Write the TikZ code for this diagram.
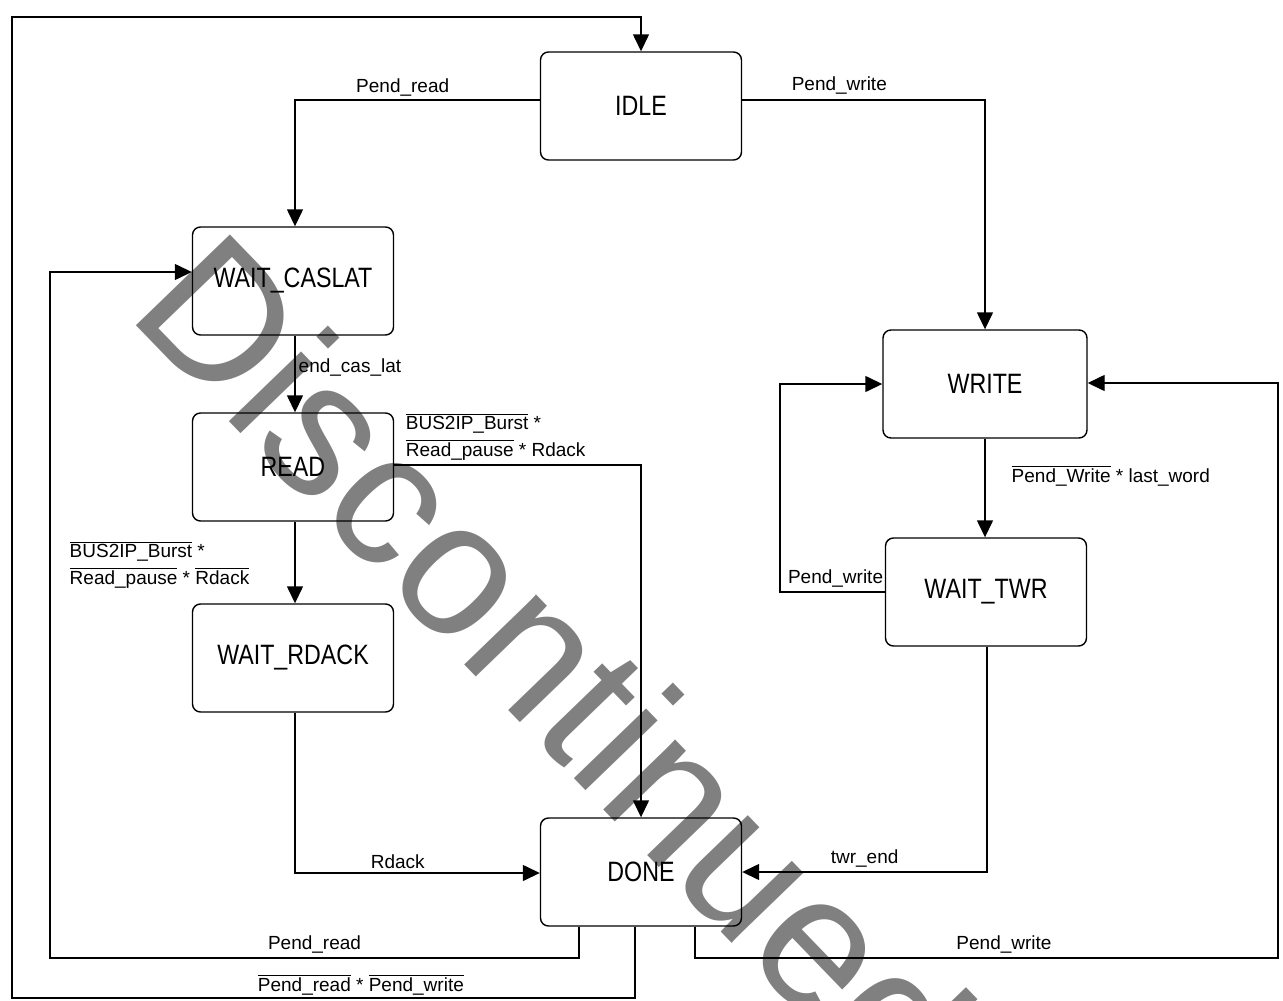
\documentclass[tikz,border=0pt]{standalone}
\usepackage{fontspec}
\usepackage{amsmath}
\usetikzlibrary{arrows.meta,positioning}
\newfontfamily\statefont{Liberation Sans}[FakeStretch=0.83]
\newfontfamily\labfont{Liberation Sans}
\newfontfamily\wmfont{Liberation Sans}
\newcommand{\ovl}[1]{$\overline{\mbox{#1}}$}

\begin{document}
\begin{tikzpicture}[
  x=1pt, y=-1pt,
  state/.style={draw, line width=1.4pt, rounded corners=8pt, minimum width=201pt, minimum height=108pt, inner sep=0pt, font=\statefont\fontsize{28}{32}\selectfont},
  flow/.style={-{Triangle[length=17pt, width=16pt]}, line width=1.4pt},
  lab/.style={font=\labfont\fontsize{19}{26.5}\selectfont, inner sep=1pt, align=left},
  watermark/.style={font=\wmfont\fontsize{190}{190}\selectfont, text=gray, rotate=-46, inner sep=0pt}
]
\useasboundingbox (0,0) rectangle (1283,1001);
\node[watermark, anchor=base west] (wm) at (125,314) {Discontinued};

\node[state] (idle) at (641,106) {IDLE};
\node[state] (wcas) at (293,281) {WAIT\_CASLAT};
\node[state] (read) at (293,467) {READ};
\node[state] (wrdack) at (293,658) {WAIT\_RDACK};
\node[state] (done) at (641,872) {DONE};
\node[state, minimum width=204pt] (write) at (985,384) {WRITE};
\node[state] (wtwr) at (986,592) {WAIT\_TWR};

\coordinate (outBL) at (12,998);
\coordinate (outTL) at (12,17);
\coordinate (loopL) at (50,958);
\coordinate (loopR) at (1278,958);

\draw[flow] ([yshift=6pt]idle.west) -| node[lab, pos=0.28, above=2pt] {Pend\_read} ([xshift=2pt]wcas.north);
\draw[flow] ([yshift=6pt]idle.east) -| node[lab, pos=0.2, above=4pt] {Pend\_write} (write.north);
\draw[flow] ([xshift=2pt]wcas.south) -- node[lab, pos=0.42, right=2pt] {end\_cas\_lat} ([xshift=2pt]read.north);
\draw[flow] ([yshift=2pt]read.east) -| node[lab, pos=0, anchor=south west, xshift=10pt, yshift=3pt] {\ovl{BUS2IP\_Burst} *\\\ovl{Read\_pause} * Rdack} (done.north);
\draw[flow] ([xshift=2pt]read.south) -- node[lab, pos=0.5, anchor=east, xshift=-44pt, yshift=-2pt] {\ovl{BUS2IP\_Burst} *\\\ovl{Read\_pause} * \ovl{Rdack}} ([xshift=2pt]wrdack.north);
\draw[flow] ([xshift=2pt]wrdack.south) |- node[lab, pos=0.71, above=3pt] {Rdack} ([yshift=-1pt]done.west);
\draw[flow] (write.south) -- node[lab, pos=0.38, right=25pt] {\ovl{Pend\_Write} * last\_word} ([xshift=-1pt]wtwr.north);
\draw[flow] (wtwr.west) -- node[lab, pos=0, anchor=south east, yshift=3pt] {Pend\_write} ++(-105,0) |- (write.west);
\draw[flow] ([xshift=1pt]wtwr.south) |- node[lab, pos=0.75, above=3pt] {twr\_end} (done.east);
\draw[flow] ([xshift=-62pt]done.south) |- node[lab, pos=0.75, above=3pt] {Pend\_read} (loopL) |- ([yshift=9pt]wcas.west);
\draw[flow] ([xshift=54pt]done.south) |- node[lab, pos=0.765, above=3pt] {Pend\_write} (loopR) |- ([yshift=1pt]write.east);
\draw[flow] ([xshift=-6pt]done.south) |- node[lab, pos=0.72, above=1pt] {\ovl{Pend\_read} * \ovl{Pend\_write}} (outBL) -- (outTL) -| (idle.north);
\end{tikzpicture}
\end{document}
